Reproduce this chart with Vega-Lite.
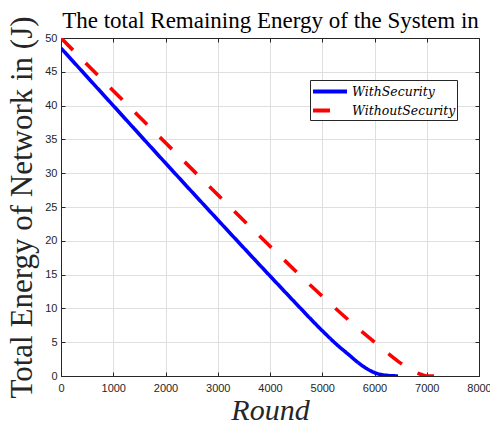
{
  "$schema": "https://vega.github.io/schema/vega-lite/v6.json",
  "width": 418,
  "height": 338,
  "autosize": {"type": "none"},
  "padding": {"left": 61, "top": 38, "right": 11, "bottom": 50},
  "background": "white",
  "config": {
    "view": {"stroke": "#262626", "strokeWidth": 1},
    "axis": {
      "labelFont": "Liberation Sans",
      "labelFontSize": 11,
      "labelColor": "#262626",
      "labelFlush": false,
      "labelOverlap": false,
      "tickColor": "#262626",
      "domainColor": "#262626",
      "gridColor": "#dfdfdf",
      "tickSize": -4,
      "titleFont": "Liberation Serif",
      "titleFontWeight": "normal",
      "titleColor": "#262626"
    },
    "legend": {
      "strokeColor": "#262626",
      "fillColor": "white"
    }
  },
  "data": {
    "values": [
      {"series": "WithSecurity", "round": 0, "energy": 48.5},
      {"series": "WithSecurity", "round": 1000, "energy": 40.0},
      {"series": "WithSecurity", "round": 2000, "energy": 31.5},
      {"series": "WithSecurity", "round": 3000, "energy": 23.1},
      {"series": "WithSecurity", "round": 4000, "energy": 14.8},
      {"series": "WithSecurity", "round": 4500, "energy": 10.7},
      {"series": "WithSecurity", "round": 5000, "energy": 6.7},
      {"series": "WithSecurity", "round": 5300, "energy": 4.5},
      {"series": "WithSecurity", "round": 5500, "energy": 3.2},
      {"series": "WithSecurity", "round": 5700, "energy": 1.9},
      {"series": "WithSecurity", "round": 5850, "energy": 1.1},
      {"series": "WithSecurity", "round": 6000, "energy": 0.5},
      {"series": "WithSecurity", "round": 6100, "energy": 0.25},
      {"series": "WithSecurity", "round": 6250, "energy": 0.08},
      {"series": "WithSecurity", "round": 6450, "energy": 0},
      {"series": "WithoutSecurity", "round": 0, "energy": 50},
      {"series": "WithoutSecurity", "round": 1000, "energy": 42.2},
      {"series": "WithoutSecurity", "round": 2000, "energy": 34.5},
      {"series": "WithoutSecurity", "round": 3000, "energy": 26.8},
      {"series": "WithoutSecurity", "round": 4000, "energy": 19.2},
      {"series": "WithoutSecurity", "round": 5000, "energy": 11.8},
      {"series": "WithoutSecurity", "round": 5500, "energy": 8.3},
      {"series": "WithoutSecurity", "round": 6000, "energy": 5.0},
      {"series": "WithoutSecurity", "round": 6300, "energy": 3.1},
      {"series": "WithoutSecurity", "round": 6500, "energy": 1.9},
      {"series": "WithoutSecurity", "round": 6700, "energy": 0.9},
      {"series": "WithoutSecurity", "round": 6850, "energy": 0.35},
      {"series": "WithoutSecurity", "round": 7000, "energy": 0},
      {"series": "WithoutSecurity", "round": 7360, "energy": 0}
    ]
  },
  "layer": [
    {
      "mark": {"type": "line", "strokeWidth": 3.6, "strokeCap": "butt", "interpolate": "monotone", "clip": true},
      "encoding": {
        "x": {
          "field": "round",
          "type": "quantitative",
          "scale": {"domain": [0, 8000], "nice": false, "zero": false},
          "axis": {
            "title": "Round",
            "titleFontSize": 30,
            "titleFontStyle": "italic",
            "titleColor": "#262626",
            "titlePadding": 2,
            "values": [0, 1000, 2000, 3000, 4000, 5000, 6000, 7000, 8000],
            "format": "d",
            "grid": true,
            "labelPadding": 10
          }
        },
        "y": {
          "field": "energy",
          "type": "quantitative",
          "scale": {"domain": [0, 50], "nice": false},
          "axis": {
            "title": "Total Energy of Network in (J)",
            "titleFontSize": 31,
            "titlePadding": 6,
            "values": [0, 5, 10, 15, 20, 25, 30, 35, 40, 45, 50],
            "grid": true,
            "labelPadding": 8
          }
        },
        "color": {
          "field": "series",
          "type": "nominal",
          "scale": {"domain": ["WithSecurity", "WithoutSecurity"], "range": ["#0000ff", "#ff0000"]},
          "legend": {
            "orient": "none",
            "legendX": 249,
            "legendY": 42,
            "title": null,
            "symbolType": "M-1,0L3,0",
            "symbolSize": 289,
            "symbolStrokeWidth": 4,
            "labelFont": "DejaVu Serif",
            "labelFontStyle": "italic",
            "labelFontSize": 12.5,
            "labelColor": "#000000",
            "strokeColor": "#262626",
            "fillColor": "white",
            "padding": 1,
            "rowPadding": -2,
            "labelOffset": 20
          }
        },
        "strokeDash": {
          "field": "series",
          "type": "nominal",
          "scale": {"domain": ["WithSecurity", "WithoutSecurity"], "range": [[1, 0], [17, 18]]},
          "legend": {
            "orient": "none",
            "legendX": 249,
            "legendY": 42,
            "title": null,
            "symbolType": "M-1,0L3,0",
            "symbolSize": 289,
            "symbolStrokeWidth": 4,
            "labelFont": "DejaVu Serif",
            "labelFontStyle": "italic",
            "labelFontSize": 12.5,
            "labelColor": "#000000",
            "strokeColor": "#262626",
            "fillColor": "white",
            "padding": 1,
            "rowPadding": -2,
            "labelOffset": 20
          }
        }
      }
    },
    {
      "mark": {"type": "point", "opacity": 0},
      "encoding": {
        "x": {
          "field": "round",
          "type": "quantitative",
          "axis": {
            "orient": "top",
            "title": "The total Remaining Energy of the System in",
            "titleFont": "Liberation Serif",
            "titleFontSize": 23,
            "titleColor": "#000000",
            "titleBaseline": "alphabetic",
            "titleY": -11,
            "labels": false,
            "grid": false,
            "minExtent": 0,
            "maxExtent": 0,
            "values": [0, 1000, 2000, 3000, 4000, 5000, 6000, 7000, 8000]
          }
        },
        "y": {
          "field": "energy",
          "type": "quantitative",
          "axis": {"orient": "right", "title": null, "labels": false, "grid": false, "minExtent": 0, "maxExtent": 0, "values": [0, 5, 10, 15, 20, 25, 30, 35, 40, 45, 50]}
        }
      }
    }
  ],
  "resolve": {"axis": {"x": "independent", "y": "independent"}}
}
